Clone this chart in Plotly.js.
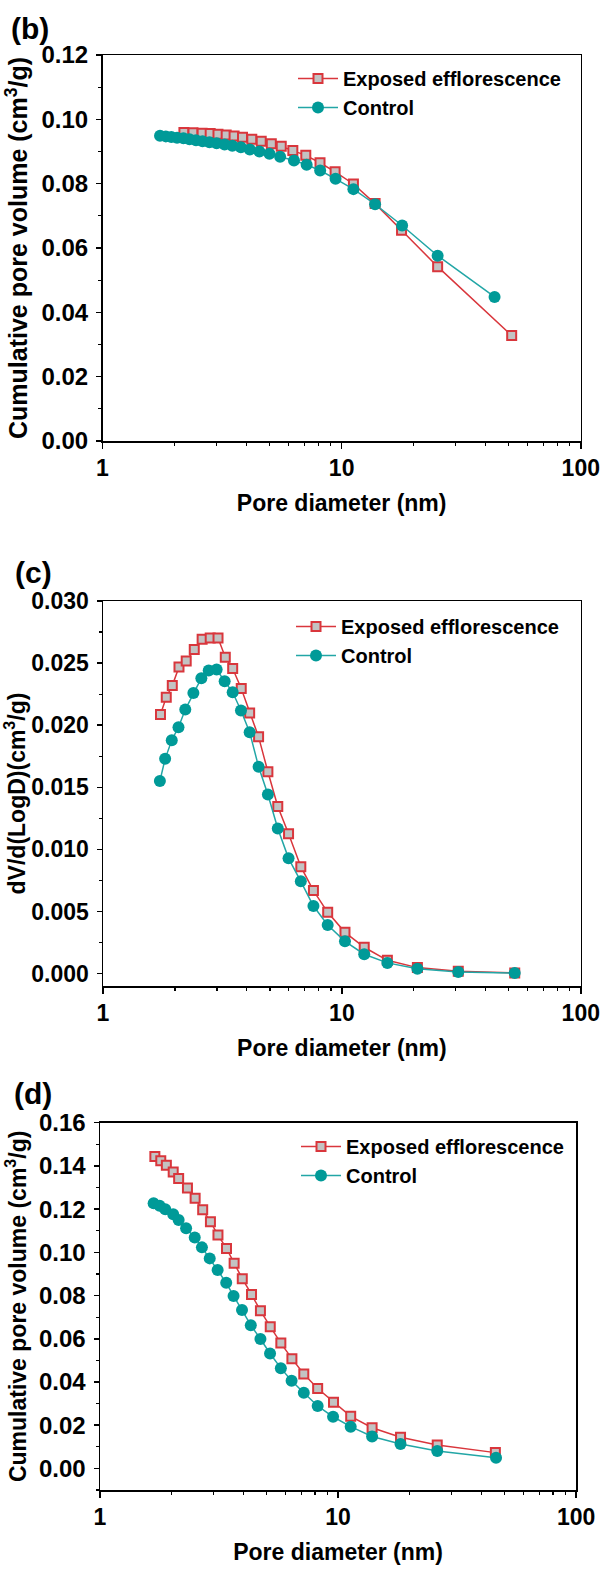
<!DOCTYPE html>
<html>
<head>
<meta charset="utf-8">
<script src="https://cdn.plot.ly/plotly-3.0.1.min.js"></script>
<style>
  html, body { margin: 0; padding: 0; background: #ffffff; }
  #chart { width: 603px; height: 1588px; }
</style>
</head>
<body>
<div id="chart"></div>
<script>
// ---------- Panel (b): cumulative pore volume ----------
const bExposedX = [2.19, 2.39, 2.61, 2.82, 3.04, 3.29, 3.55, 3.85, 4.21, 4.61, 5.08, 5.59, 6.25, 7.08, 8.12, 9.39, 11.2, 13.8, 17.8, 25.2, 51.4];
const bExposedY = [0.0959, 0.0958, 0.0957, 0.0956, 0.0954, 0.0951, 0.0948, 0.0944, 0.0938, 0.0932, 0.0924, 0.0916, 0.0903, 0.0888, 0.0865, 0.0837, 0.0799, 0.0738, 0.0655, 0.0542, 0.0328];
const bControlX = [1.74, 1.84, 1.94, 2.05, 2.18, 2.31, 2.46, 2.62, 2.80, 3.00, 3.24, 3.49, 3.79, 4.13, 4.53, 4.99, 5.53, 6.32, 7.14, 8.13, 9.43, 11.2, 13.8, 17.9, 25.2, 43.6];
const bControlY = [0.0949, 0.0947, 0.0945, 0.0943, 0.0941, 0.0938, 0.0935, 0.0932, 0.0929, 0.0926, 0.0922, 0.0918, 0.0913, 0.0906, 0.0900, 0.0893, 0.0884, 0.0872, 0.0859, 0.0841, 0.0815, 0.0783, 0.0736, 0.0670, 0.0576, 0.0448];

// ---------- Panel (c): dV/d(logD) ----------
const cExposedX = [1.74, 1.84, 1.95, 2.08, 2.23, 2.41, 2.60, 2.81, 3.03, 3.25, 3.49, 3.79, 4.11, 4.48, 4.90, 5.39, 5.98, 6.73, 7.60, 8.72, 10.3, 12.4, 15.5, 20.7, 30.7, 52.9];
const cExposedY = [0.02086, 0.02225, 0.02319, 0.02469, 0.02517, 0.02609, 0.02692, 0.02702, 0.02702, 0.02547, 0.02456, 0.02295, 0.02099, 0.01906, 0.01625, 0.01346, 0.01126, 0.00861, 0.00668, 0.00493, 0.00332, 0.00212, 0.00107, 0.00048, 0.00019, 0.00005];
const cControlX = [1.73, 1.82, 1.94, 2.07, 2.21, 2.39, 2.58, 2.77, 2.99, 3.23, 3.49, 3.78, 4.11, 4.48, 4.90, 5.39, 5.98, 6.73, 7.60, 8.72, 10.3, 12.4, 15.5, 20.7, 30.7, 52.9];
const cControlY = [0.01550, 0.01729, 0.01879, 0.01984, 0.02126, 0.02260, 0.02378, 0.02440, 0.02448, 0.02354, 0.02265, 0.02118, 0.01944, 0.01665, 0.01442, 0.01169, 0.00928, 0.00743, 0.00544, 0.00391, 0.00260, 0.00156, 0.00086, 0.00038, 0.00013, 0.00005];

// ---------- Panel (d): cumulative pore volume ----------
const dExposedX = [1.70, 1.80, 1.90, 2.03, 2.14, 2.33, 2.51, 2.70, 2.91, 3.13, 3.40, 3.66, 3.96, 4.33, 4.72, 5.19, 5.75, 6.40, 7.18, 8.21, 9.57, 11.3, 13.9, 18.3, 26.1, 45.8];
const dExposedY = [0.1443, 0.1424, 0.1403, 0.1372, 0.1342, 0.1298, 0.1250, 0.1197, 0.1142, 0.1080, 0.1018, 0.0950, 0.0878, 0.0805, 0.0730, 0.0656, 0.0580, 0.0508, 0.0437, 0.0370, 0.0306, 0.0241, 0.0188, 0.0144, 0.0108, 0.0073];
const dControlX = [1.68, 1.78, 1.88, 2.03, 2.14, 2.30, 2.50, 2.68, 2.89, 3.12, 3.39, 3.64, 3.95, 4.30, 4.72, 5.18, 5.75, 6.38, 7.18, 8.21, 9.53, 11.3, 13.9, 18.3, 26.1, 46.1];
const dControlY = [0.1227, 0.1216, 0.1199, 0.1176, 0.1150, 0.1111, 0.1069, 0.1023, 0.0972, 0.0918, 0.0859, 0.0798, 0.0733, 0.0663, 0.0599, 0.0532, 0.0464, 0.0406, 0.0350, 0.0289, 0.0239, 0.0193, 0.0148, 0.0113, 0.0080, 0.0049];

// ---------- Labels ----------
const seriesNames = ["Exposed efflorescence", "Control"];
const panelLabels = ["(b)", "(c)", "(d)"];
const xTitle = "Pore diameter (nm)";
const yTitles = ["Cumulative pore volume (cm<sup>3</sup>/g)", "dV/d(LogD)(cm<sup>3</sup>/g)", "Cumulative pore volume (cm<sup>3</sup>/g)"];
const xTickVals = [1, 10, 100];
const xTickText = ["1", "10", "100"];

// ---------- Styles ----------
const RED = "#d9363c";
const GRAY = "#c3c3c3";
const TEAL = "#009a98";
const TEAL_LINE = "#22a6a6";
const FONT = "Liberation Sans, Arial, Helvetica, sans-serif";

function exposedTrace(x, y, n) {
  const s = n === 1 ? "" : String(n);
  return {
    x: x, y: y, type: "scatter", mode: "lines+markers",
    name: seriesNames[0],
    xaxis: "x" + s, yaxis: "y" + s, legend: "legend" + s,
    line: { color: RED, width: 1.5 },
    marker: { symbol: "square", size: 9, color: GRAY, line: { color: RED, width: 2 } }
  };
}
function controlTrace(x, y, n) {
  const s = n === 1 ? "" : String(n);
  return {
    x: x, y: y, type: "scatter", mode: "lines+markers",
    name: seriesNames[1],
    xaxis: "x" + s, yaxis: "y" + s, legend: "legend" + s,
    line: { color: TEAL_LINE, width: 1.5 },
    marker: { symbol: "circle", size: 12, color: TEAL, line: { width: 0 } }
  };
}

const data = [
  exposedTrace(bExposedX, bExposedY, 1),
  controlTrace(bControlX, bControlY, 1),
  exposedTrace(cExposedX, cExposedY, 2),
  controlTrace(cControlX, cControlY, 2),
  exposedTrace(dExposedX, dExposedY, 3),
  controlTrace(dControlX, dControlY, 3)
];

const W = 603, H = 1588;
const px = v => v / W;
const py = v => 1 - v / H;

function xAxis(left, right, anchor, tickSize, standoff) {
  return {
    type: "log", range: [0, 2], domain: [px(left), px(right)], anchor: anchor,
    tickmode: "array", tickvals: xTickVals, ticktext: xTickText,
    ticks: "outside", ticklen: 6, tickwidth: 1.5, tickcolor: "#000",
    minor: { ticks: "outside", ticklen: 3, tickwidth: 1.2, tickcolor: "#000", dtick: "D1", showgrid: false },
    showline: true, linecolor: "#000", linewidth: 1.5, mirror: true,
    showgrid: false, zeroline: false,
    tickfont: { family: FONT, size: tickSize, color: "#000", weight: 700 },
    ticklabelstandoff: 0,
    title: { text: xTitle, font: { family: FONT, size: 23, color: "#000", weight: 700 }, standoff: standoff },
    automargin: false
  };
}
function yAxis(top, bottom, range, dtick, fmt, anchor, titleText, titleSize, tickSize, standoff) {
  return {
    range: range, domain: [py(bottom), py(top)], anchor: anchor,
    dtick: dtick, tick0: 0, tickformat: fmt,
    ticks: "outside", ticklen: 5, tickwidth: 1.5, tickcolor: "#000",
    minor: { ticks: "outside", ticklen: 3, tickwidth: 1.2, tickcolor: "#000", dtick: dtick / 2, showgrid: false },
    showline: true, linecolor: "#000", linewidth: 1.5, mirror: true,
    showgrid: false, zeroline: false,
    tickfont: { family: FONT, size: tickSize, color: "#000", weight: 700 },
    ticklabelstandoff: 3,
    title: { text: titleText, font: { family: FONT, size: titleSize, color: "#000", weight: 700 }, standoff: standoff },
    automargin: false
  };
}
function legendAt(x, y) {
  return {
    x: px(x), y: py(y), xanchor: "left", yanchor: "top",
    bgcolor: "rgba(0,0,0,0)", borderwidth: 0,
    font: { family: FONT, size: 20, color: "#000", weight: 700 },
    itemwidth: 40, tracegroupgap: 0
  };
}

const layout = {
  width: W, height: H,
  margin: { l: 0, r: 0, t: 0, b: 0 },
  paper_bgcolor: "#ffffff", plot_bgcolor: "#ffffff",
  showlegend: true,
  xaxis: xAxis(102.5, 580.8, "y", 23, 15),
  yaxis: yAxis(55, 441, [0, 0.12], 0.02, ".2f", "x", yTitles[0], 25, 24, 6),
  xaxis2: xAxis(103, 580.8, "y2", 23, 15),
  yaxis2: yAxis(601, 986, [-0.001, 0.030], 0.005, ".3f", "x2", yTitles[1], 23, 23, 4),
  xaxis3: xAxis(100, 576.1, "y3", 23, 15),
  yaxis3: yAxis(1122.7, 1490, [-0.01, 0.16], 0.02, ".2f", "x3", yTitles[2], 23, 24, 6),
  legend: legendAt(293, 59),
  legend2: legendAt(291, 607),
  legend3: legendAt(296, 1127),
  annotations: [
    { text: panelLabels[0], x: px(30), y: py(28.5) },
    { text: panelLabels[1], x: px(33), y: py(573) },
    { text: panelLabels[2], x: px(33), y: py(1093) }
  ].map(a => Object.assign(a, {
    xref: "paper", yref: "paper", xanchor: "center", yanchor: "middle", showarrow: false,
    font: { family: FONT, size: 30, color: "#000", weight: 700 }
  }))
};

Plotly.newPlot("chart", data, layout, { displayModeBar: false, staticPlot: true });
</script>
</body>
</html>
